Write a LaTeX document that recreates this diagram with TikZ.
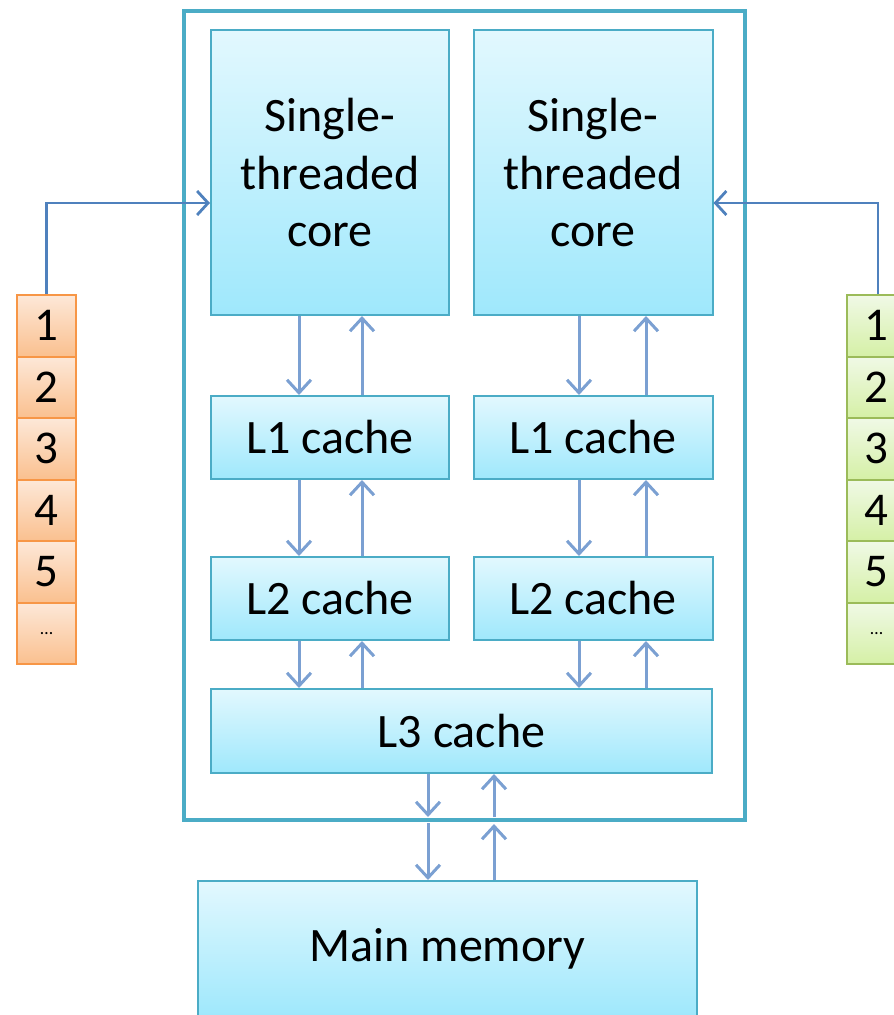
\documentclass[tikz,border=0pt]{standalone}
\usepackage{fontspec}
\setmainfont{Carlito}
\usetikzlibrary{arrows.meta,calc}
\definecolor{boxline}{HTML}{4BACC6}
\definecolor{boxtop}{HTML}{E2F8FE}
\definecolor{boxbot}{HTML}{9FE8FC}
\definecolor{arrcol}{HTML}{7BA0D2}
\definecolor{concol}{HTML}{4F81BD}
\definecolor{orline}{HTML}{F79646}
\definecolor{ortop}{HTML}{FDE8D8}
\definecolor{orbot}{HTML}{FAC08F}
\definecolor{grline}{HTML}{9BBB59}
\definecolor{grtop}{HTML}{F0F9E6}
\definecolor{grbot}{HTML}{D5F0A6}
\tikzset{
  unit/.style={draw=boxline, line width=2pt, top color=boxtop, bottom color=boxbot,
    inner sep=0pt, align=center, font=\fontsize{48}{57.6}\selectfont},
  ocell/.style={draw=orline, line width=2pt, top color=ortop, bottom color=orbot,
    inner sep=0pt, minimum width=59pt, minimum height=61.5pt, font=\fontsize{47}{52}\selectfont},
  gcell/.style={draw=grline, line width=2pt, top color=grtop, bottom color=grbot,
    inner sep=0pt, minimum width=59pt, minimum height=61.5pt, font=\fontsize{47}{52}\selectfont},
  arr/.style={draw=arrcol, line width=3pt, -{Straight Barb[length=13pt,width=24pt,line width=3pt]}},
  con/.style={draw=concol, line width=2.2pt, -{Straight Barb[length=11pt,width=24pt,line width=2.8pt]}},
  dots/.style={font=\fontsize{18}{20}\selectfont}
}
\begin{document}
\begin{tikzpicture}[x=1pt,y=-1pt]
\useasboundingbox (0,0) rectangle (894,1015);
\clip (0,0) rectangle (894,1015);
% container
\node[draw=boxline, line width=4pt, minimum width=561pt, minimum height=809pt, inner sep=0pt] (cont) at (464.5,415.5) {};
% cores and caches
\node[unit, minimum width=238pt, minimum height=285pt] (c1) at (330,172.5) {Single-\\threaded\\core};
\node[unit, minimum width=239pt, minimum height=285pt] (c2) at (593,172.5) {Single-\\threaded\\core};
\node[unit, minimum width=238pt, minimum height=83pt] (a1) at (330,437.5) {L1 cache};
\node[unit, minimum width=239pt, minimum height=83pt] (a2) at (593,437.5) {L1 cache};
\node[unit, minimum width=238pt, minimum height=83pt] (b1) at (330,598.5) {L2 cache};
\node[unit, minimum width=239pt, minimum height=83pt] (b2) at (593,598.5) {L2 cache};
\node[unit, minimum width=501pt, minimum height=84pt] (l3) at (461.5,731) {L3 cache};
\node[unit, minimum width=499pt, minimum height=136pt] (mm) at (447.5,949) {Main memory};
% lists
\foreach \i/\t in {1/1,2/2,3/3,4/4,5/5}{
  \node[ocell] (o\i) at (46.5,{295+61.5*(\i-0.5)}) {\t};
  \node[gcell] (g\i) at (876.5,{295+61.5*(\i-0.5)}) {\t};
}
\node[ocell] (o6) at (46.5,{295+61.5*5.5}) {};
\node[dots] at (o6) {…};
\node[gcell] (g6) at (876.5,{295+61.5*5.5}) {};
\node[dots] at (g6) {…};
% connectors from lists
\draw[con] (o1.north) |- ([yshift=-30.5pt]c1.west);
\draw[con] ([xshift=1.5pt]g1.north) |- ([yshift=-30.5pt]c2.east);
% arrows core <-> L1
\draw[arr] ([xshift=-31pt]c1.south) -- ([xshift=-31pt]a1.north);
\draw[arr] ([xshift=32pt]a1.north) -- ([xshift=32pt]c1.south);
\draw[arr] ([xshift=-14pt]c2.south) -- ([xshift=-14pt]a2.north);
\draw[arr] ([xshift=53pt]a2.north) -- ([xshift=53pt]c2.south);
% L1 <-> L2
\draw[arr] ([xshift=-31pt]a1.south) -- ([xshift=-31pt]b1.north);
\draw[arr] ([xshift=32pt]b1.north) -- ([xshift=32pt]a1.south);
\draw[arr] ([xshift=-14pt]a2.south) -- ([xshift=-14pt]b2.north);
\draw[arr] ([xshift=53pt]b2.north) -- ([xshift=53pt]a2.south);
% L2 <-> L3
\draw[arr] ([xshift=-31pt]b1.south) -- ([xshift=-31pt]b1.south |- l3.north);
\draw[arr] ([xshift=32pt]b1.south |- l3.north) -- ([xshift=32pt]b1.south);
\draw[arr] ([xshift=-14pt]b2.south) -- ([xshift=-14pt]b2.south |- l3.north);
\draw[arr] ([xshift=53pt]b2.south |- l3.north) -- ([xshift=53pt]b2.south);
% L3 <-> container <-> memory
\coordinate (dtop) at (428,817);
\coordinate (dbot) at (428,823);
\coordinate (utop) at (494,817);
\coordinate (ubot) at (494,824);
\draw[arr] (l3.south -| dtop) -- (dtop);
\draw[arr] (dbot) -- (mm.north -| dbot);
\draw[arr] (mm.north -| ubot) -- (ubot);
\draw[arr] (utop) -- (l3.south -| utop);
\end{tikzpicture}
\end{document}
